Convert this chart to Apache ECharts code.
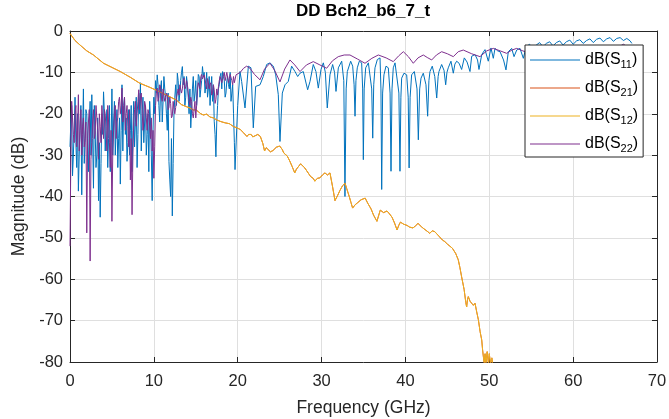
<!DOCTYPE html>
<html><head><meta charset="utf-8">
<script src="https://cdn.jsdelivr.net/npm/echarts@6/dist/echarts.min.js"></script>
<style>html,body{margin:0;padding:0;background:#fff}#c{width:669px;height:419px}</style>
</head><body><div id="c"></div>
<script>
// ---------- data ----------
const xTicks = [0, 10, 20, 30, 40, 50, 60, 70];
const yTicks = [-80, -70, -60, -50, -40, -30, -20, -10, 0];
const seriesNames = ['S11', 'S21', 'S12', 'S22'];

// dense, noisy low-frequency part (GHz): even samples
const noiseFreqA = [0,0.2,0.4,0.6,0.8,1,1.2,1.4,1.6,1.8,2,2.2,2.4,2.6,2.8,3,3.2,3.4,3.6,3.8,4,4.2,4.4,4.6,4.8,5,5.2,5.4,5.6,5.8,6,6.2,6.4,6.6,6.8,7,7.2,7.4,7.6,7.8,8,8.2,8.4,8.6,8.8,9,9.2,9.4,9.6,9.8,10,10.2,10.4,10.6,10.8,11,11.2,11.4,11.6,11.8,12,12.2,12.4,12.6,12.8,13,13.2,13.4,13.6,13.8,14,14.2,14.4,14.6,14.8,15,15.2,15.4,15.6,15.8,16,16.2,16.4,16.6,16.8,17,17.2,17.4,17.6,17.8,18,18.2,18.4,18.6,18.8,19,19.2,19.4,19.6];
// odd samples
const noiseFreqB = [0.1,0.3,0.5,0.7,0.9,1.1,1.3,1.5,1.7,1.9,2.1,2.3,2.5,2.7,2.9,3.1,3.3,3.5,3.7,3.9,4.1,4.3,4.5,4.7,4.9,5.1,5.3,5.5,5.7,5.9,6.1,6.3,6.5,6.7,6.9,7.1,7.3,7.5,7.7,7.9,8.1,8.3,8.5,8.7,8.9,9.1,9.3,9.5,9.7,9.9,10.1,10.3,10.5,10.7,10.9,11.1,11.3,11.5,11.7,11.9,12.1,12.3,12.5,12.7,12.9,13.1,13.3,13.5,13.7,13.9,14.1,14.3,14.5,14.7,14.9,15.1,15.3,15.5,15.7,15.9,16.1,16.3,16.5,16.7,16.9,17.1,17.3,17.5,17.7,17.9,18.1,18.3,18.5,18.7,18.9,19.1,19.3,19.5];

const s11NoiseDbA = [-28,-18,-30,-16,-33,-38.7,-22,-39.6,-14,-27,
  -20,-34,-17,-15.4,-38,-24,-30,-41,-45,-20,
  -14.7,-29,-19,-26,-34,-14,-22,-30,-19,-26,
  -37,-13,-18,-25,-31.5,-19,-24,-34,-17,-22,
  -33,-15,-12.5,-20,-27,-18,-25,-34,-22,-41,
  -16,-12,-10.6,-18,-14,-22,-11,-16,-24,-31.5,
  -40,-44.7,-20,-13,-10.2,-17,-12,-8.6,-11,-16,
  -13,-20,-23.4,-14,-17,-12,-15,-11,-14,-8.6,
  -10,-13,-16,-11,-14,-17,-21.8,-30.4,-18,-13,
  -10.2,-9.8,-12,-15,-11,-14,-17,-13,-27];
const s11NoiseDbB = [-22,-35,-24,-27,-20,-30,-18,-25,-32,-19,
  -28,-22,-30,-26,-18,-33,-21,-27,-32,-25,
  -20,-23,-33,-18,-27,-30,-17,-24,-33,-21,
  -24,-29,-16,-21,-27,-30,-18,-24,-28,-16,
  -25,-20,-29,-16,-22,-30,-20,-17,-30,-24,
  -20,-15,-13,-22,-12,-17,-14,-20,-15,-36,
  -26,-32,-16,-18,-12,-15,-10,-13,-18,-11,
  -16,-14,-19,-11,-15,-18,-10.5,-16,-12,-11,
  -15,-10,-14,-18,-11,-13,-25,-22,-14,-11,
  -14,-11,-16,-12,-13,-10,-15,-20];

const s22NoiseDbA = [-52,-17,-25,-20,-28,-15.4,-24,-30,-21,-26,
  -48.8,-22,-55.6,-27,-19,-25,-21,-31,-23,-18,
  -26,-20,-29,-22,-33,-46,-24,-18,-22,-17,
  -20,-13.8,-19,-24,-18,-28,-36,-44.4,-22,-17,
  -20,-14.2,-16,-19,-22,-18,-24,-20,-26,-29,
  -35.6,-18,-13.8,-16,-13.5,-17,-14,-16.5,-15.5,-18.5,
  -17.5,-20.5,-19,-18.5,-15,-15.5,-12.8,-14,-11.4,-13.5,
  -13,-17,-16,-20,-19,-21,-14,-13.2,-11,-11.6,
  -10.6,-12.8,-11.5,-14,-12.5,-15,-14.2,-16.5,-15.5,-12,
  -11,-12.2,-10,-11,-9.8,-11.5,-10.8,-13,-12.5];
const s22NoiseDbB = [-30,-21,-27,-18,-24,-29,-19,-23,-28,-22,
  -26,-19,-31,-22,-26,-18,-24,-20,-27,-22,
  -19,-24,-18,-27,-24,-29,-20,-26,-21,-16,
  -18,-22,-16,-20,-23,-19,-26,-30,-19,-23,
  -17,-19,-15,-24,-17,-21,-19,-23,-21,-24,
  -28,-15,-17,-13,-16,-14,-17,-15,-19,-16,
  -21,-17,-20,-16,-14,-13,-15,-12,-14,-12,
  -15,-18,-17,-21,-17,-18,-12.5,-14,-10.5,-12,
  -11,-14,-12.5,-13,-15.5,-13,-17.5,-14,-13.5,-11,
  -12.5,-10.5,-12,-10,-12.5,-10.5,-12,-11];

// resonant high-frequency part of S11
const s11TailFreq = [19.68,20.0,20.27,20.47,20.87,21.27,21.58,21.86,22.14,22.66,23.05,23.45,23.85,24.25,24.53,24.84,25.04,25.32,25.64,26.03,26.43,26.83,27.15,27.43,27.82,28.34,28.62,29.01,29.33,29.61,29.93,30.21,30.45,30.68,31.0,31.32,31.55,31.72,32.0,32.4,32.65,32.79,32.93,33.07,33.47,33.71,33.88,33.99,34.1,34.26,34.5,34.78,34.9,34.98,35.08,35.26,35.58,35.77,35.98,36.1,36.22,36.37,36.65,36.97,37.08,37.17,37.28,37.44,37.68,37.96,38.17,38.28,38.4,38.55,38.76,38.96,39.22,39.35,39.46,39.55,39.83,40.15,40.33,40.44,40.56,40.74,41.06,41.38,41.54,41.7,41.86,42.13,42.45,42.65,42.8,42.93,43.2,43.5,43.73,43.9,44.0,44.32,44.6,44.8,44.95,45.11,45.43,45.71,45.9,46.11,46.4,46.7,47.02,47.35,47.7,47.9,48.3,48.6,48.77,49.1,49.49,49.88,50.2,50.48,50.68,51.0,51.28,51.7,51.99,52.27,52.67,52.95,53.27,53.66,54.06,54.4,54.8,55.2,55.6,56.0,56.4,56.8,57.2,57.6,58.0,58.4,58.8,59.2,59.6,60.0,60.4,60.8,61.2,61.6,62.0,62.4,62.8,63.2,63.6,64.0,64.4,64.8,65.2,65.6,66.0,66.4,66.8,67.0];
const s11TailDb = [-33.5,-18,-9.8,-12.2,-18.6,-8.5,-8.9,-23.4,-13.4,-13.0,-11.0,-8.1,-7.7,-8.5,-10.6,-15.4,-26.7,-15.0,-13.0,-12.2,-8.5,-9.8,-11.0,-10.2,-9.8,-14.2,-12.2,-8.1,-9.8,-13.8,-9.3,-7.7,-10,-18.6,-10.6,-8.1,-10,-14.6,-8.9,-7.3,-12,-40.0,-14,-9.8,-7.3,-8.5,-13,-20.6,-12,-8.9,-7.3,-7.7,-14,-31.1,-14,-8.9,-7.7,-8.1,-14,-25.9,-13,-8.9,-6.9,-6.5,-14,-38.3,-15,-10.6,-8.5,-8.9,-15,-33.9,-14,-8.9,-7.7,-8.1,-15,-33.9,-16,-11.4,-10.2,-10.6,-16,-33.1,-16,-10.6,-9.8,-14,-26.3,-14,-11.4,-10.2,-13,-20.6,-12,-9.8,-8.5,-11,-16.2,-11,-9.8,-8.1,-9.5,-13.0,-10,-8.9,-7.3,-10.2,-8,-7.3,-7.8,-9.3,-6.5,-7.5,-9.8,-6.1,-5.7,-7,-9.3,-5.7,-4.5,-7.3,-4.1,-6.6,-4.2,-4.8,-5.0,-7,-9.4,-5.0,-4.2,-6.2,-4.6,-4.2,-6.6,-3.8,-3.2,-4.2,-3.4,-2.8,-3.8,-3.0,-2.6,-3.6,-2.8,-2.4,-3.4,-2.6,-2.2,-3.2,-2.4,-2.1,-3.0,-2.3,-1.9,-2.8,-2.0,-1.7,-2.6,-1.9,-1.6,-2.5,-1.8,-1.6,-2.3,-1.8,-2.4,-3.0];

// smooth high-frequency part of S22
const s22TailFreq = [19.8,20.3,20.7,21.07,21.46,22.0,22.66,23.2,23.85,24.4,25.04,25.6,26.23,26.8,27.43,28.2,29.01,29.8,30.61,31.3,31.99,32.7,33.39,34.3,35.18,36.0,36.77,37.7,38.55,39.2,39.75,40.35,40.94,41.5,42.13,42.6,43.13,43.7,44.32,45.0,45.71,46.3,46.9,47.9,48.89,49.7,50.48,51.3,52.07,52.7,53.27,54.0,54.8,55.6,56.4,57.2,58.0,58.8,59.6,60.4,61.2,62.0,62.8,63.6,64.4,65.2,66.0,66.6];
const s22TailDb = [-10.6,-10,-9,-8.5,-9.0,-10.5,-11.8,-9.2,-7.8,-9.5,-12.3,-9.2,-7.0,-8.2,-9.8,-8.2,-7.4,-8.2,-9.0,-7.2,-6.2,-5.8,-5.8,-6.8,-7.8,-6.6,-5.8,-6.5,-7.4,-6.0,-5.0,-6.2,-7.8,-6.5,-5.8,-6.4,-7.0,-5.8,-5.0,-5.5,-6.2,-5.0,-4.6,-5.5,-6.2,-4.8,-4.2,-4.8,-5.4,-4.6,-4.2,-4.8,-5.4,-4.4,-4.0,-4.8,-5.2,-4.3,-3.9,-4.6,-5.0,-4.2,-3.8,-4.5,-4.9,-4.1,-3.2,-4.0];

// transmission (S12; S21 coincides with it and is drawn underneath)
const s12Freq = [0,0.6,1.2,2.0,2.8,4.0,5.0,6.0,7.2,8.3,9.5,10.7,11.7,12.7,13.3,13.9,14.3,14.7,15.0,15.3,15.6,15.9,16.3,16.7,17.1,17.5,18.0,18.5,19.0,19.5,19.9,20.3,20.7,21.1,21.3,21.6,21.8,22.0,22.4,22.7,23.0,23.2,23.4,23.6,23.9,24.2,24.6,25.0,25.3,25.5,25.9,26.2,26.5,26.8,27.0,27.2,27.5,27.7,28.0,28.2,28.5,28.7,29.0,29.2,29.5,29.8,30.1,30.4,30.7,31.0,31.3,31.6,31.9,32.2,32.5,32.8,33.0,33.3,33.5,33.7,34.0,34.3,34.7,35.2,35.5,35.9,36.2,36.6,37.0,37.4,37.8,38.1,38.4,38.7,39.0,39.2,39.4,39.8,40.2,40.5,40.9,41.2,41.5,41.9,42.2,42.6,42.9,43.2,43.5,44.0,44.4,44.7,45.0,45.3,45.6,46.0,46.3,46.5,46.7,47.0,47.2,47.3,47.4,47.5,47.7,47.9,48.1,48.3,48.5,48.7,48.9,49.1,49.2,49.3,49.4,49.5,49.6,49.75,49.9,50.0,50.15,50.3,50.45,50.6];
const s12Db = [-0.6,-2.3,-3.4,-4.8,-5.8,-7.8,-8.8,-9.8,-11.2,-12.6,-13.6,-14.7,-15.7,-16.7,-17.8,-18.3,-18.6,-19.1,-19.0,-19.5,-20.0,-20.3,-20.1,-20.8,-21.0,-21.5,-21.9,-22.2,-22.4,-23.1,-23.4,-23.8,-24.6,-25.5,-25.0,-25.0,-25.6,-25.2,-25.0,-25.5,-27.2,-29,-28.2,-28.3,-29.2,-28.9,-28.1,-27.8,-28.6,-29.5,-30.2,-31.4,-32.8,-34.3,-33.4,-33,-32.1,-32.4,-33.1,-33.5,-34.6,-35.2,-35.6,-36.3,-35.6,-35.5,-34.8,-34.3,-34.8,-34.3,-37.5,-41,-39.8,-38.5,-37.4,-36.8,-38.1,-40,-41.4,-42.8,-42.0,-41.5,-40.8,-40.4,-41.6,-43,-44.5,-46,-43.3,-43.9,-43.5,-44.2,-45,-46.4,-48.1,-47.0,-46.2,-46.7,-47,-47.4,-47.6,-47.1,-46.5,-47.3,-47.8,-48.4,-48.9,-48.3,-48.5,-49.6,-50.5,-50.9,-51.5,-52.0,-52.5,-53.8,-55.3,-57.2,-59.4,-62.5,-65.6,-66.7,-64.9,-64.2,-65.3,-65,-66.3,-65.8,-67.9,-69.8,-72.6,-74.7,-77.0,-78.8,-80.5,-78,-80.5,-77.5,-80.5,-78,-80.5,-79,-81,-84];
const s21Freq = s12Freq;
const s21Db = s12Db;

// ---------- chart ----------
const FONT = "'Liberation Sans', Arial, Helvetica, sans-serif";
const AX = '#262626';
const colors = {S11:'#0072BD', S21:'#D95319', S12:'#EDB120', S22:'#7E2F8E'};
const pairs = (xs, ys) => xs.map((x, i) => [x, ys[i]]);
const byX = (a, b) => a[0] - b[0];
const dataMap = {
  S11: pairs(noiseFreqA, s11NoiseDbA).concat(pairs(noiseFreqB, s11NoiseDbB)).sort(byX).concat(pairs(s11TailFreq, s11TailDb)),
  S21: pairs(s21Freq, s21Db),
  S12: pairs(s12Freq, s12Db),
  S22: pairs(noiseFreqA, s22NoiseDbA).concat(pairs(noiseFreqB, s22NoiseDbB)).sort(byX).concat(pairs(s22TailFreq, s22TailDb))
};

const xMin = xTicks[0], xMax = xTicks[xTicks.length-1], xStep = xTicks[1]-xTicks[0];
const yMin = yTicks[0], yMax = yTicks[yTicks.length-1], yStep = yTicks[1]-yTicks[0];

const axisCommon = {
  axisLine: {show: true, onZero: false, lineStyle: {color: AX, width: 1}},
  axisTick: {show: true, inside: true, length: 5, lineStyle: {color: AX}},
};

const chart = echarts.init(document.getElementById('c'), null, {renderer: 'canvas'});
chart.setOption({
  animation: false,
  backgroundColor: '#fff',
  textStyle: {fontFamily: FONT},
  title: {
    text: 'DD Bch2_b6_7_t', left: 363, top: 3, textAlign: 'center', padding: 0,
    textStyle: {fontFamily: FONT, fontSize: 17, fontWeight: 'bold', color: '#000'}
  },
  grid: {left: 70, right: 12, top: 31, bottom: 57, containLabel: false, outerBoundsMode: 'none'},
  xAxis: [
    Object.assign({type: 'value', min: xMin, max: xMax, interval: xStep, position: 'bottom',
      axisLabel: {color: AX, fontSize: 16.5, margin: 11, fontFamily: FONT},
      splitLine: {show: true, lineStyle: {color: '#dfdfdf', width: 1}},
      name: 'Frequency (GHz)', nameLocation: 'middle', nameGap: 37,
      nameTextStyle: {color: AX, fontSize: 17.5, fontFamily: FONT}}, axisCommon),
    Object.assign({type: 'value', min: xMin, max: xMax, interval: xStep, position: 'top',
      axisLabel: {show: false}, splitLine: {show: false}}, axisCommon)
  ],
  yAxis: [
    Object.assign({type: 'value', min: yMin, max: yMax, interval: yStep, position: 'left',
      axisLabel: {color: AX, fontSize: 16.5, margin: 7, fontFamily: FONT},
      splitLine: {show: true, lineStyle: {color: '#dfdfdf', width: 1}},
      name: 'Magnitude (dB)', nameLocation: 'middle', nameGap: 33,
      nameTextStyle: {color: AX, fontSize: 17.5, fontFamily: FONT}}, axisCommon),
    Object.assign({type: 'value', min: yMin, max: yMax, interval: yStep, position: 'right',
      axisLabel: {show: false}, splitLine: {show: false}}, axisCommon)
  ],
  legend: {
    orient: 'vertical', left: 525, top: 45, padding: [7, 5, 3, 5], itemGap: 10,
    icon: 'rect', itemWidth: 50, itemHeight: 1,
    backgroundColor: '#fff', borderColor: AX, borderWidth: 1, borderRadius: 0,
    data: seriesNames,
    formatter: n => '{a|dB(S}{s|' + n.slice(1) + '}{a|)}',
    textStyle: {fontFamily: FONT, color: '#000', rich: {
      a: {fontSize: 16, fontFamily: FONT, color: '#000'},
      s: {fontSize: 11, fontFamily: FONT, color: '#000', padding: [9, 0, 0, 0]}
    }}
  },
  series: seriesNames.map((n, i) => ({
    name: n, type: 'line', xAxisIndex: 0, yAxisIndex: 0,
    data: dataMap[n], symbol: 'none', showSymbol: false, clip: true, z: 2 + i * 0.01,
    lineStyle: {color: colors[n], width: 1}, itemStyle: {color: colors[n]}
  }))
});
</script>
</body></html>
